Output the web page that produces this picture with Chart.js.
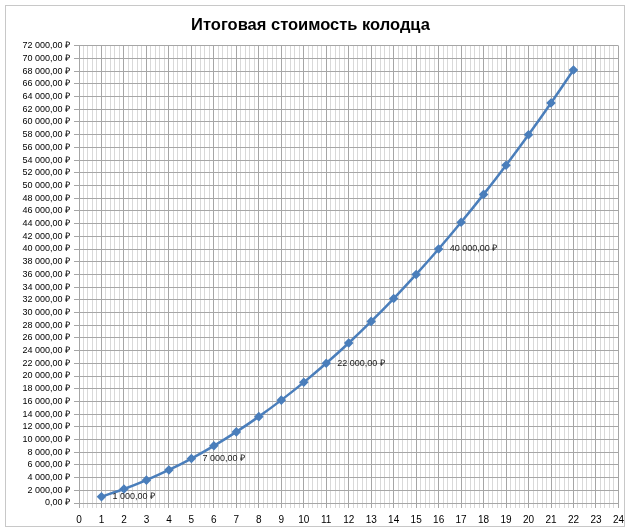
<!DOCTYPE html>
<html>
<head>
<meta charset="utf-8">
<script src="https://cdn.jsdelivr.net/npm/chart.js@4/dist/chart.umd.min.js"></script>
<style>
  body { margin: 0; background: #fff; }
  #wrap { width: 630px; height: 532px; }
</style>
</head>
<body>
<div id="wrap"><canvas id="well"></canvas></div>
<script>
// ring count and total cost
var rings = [1, 2, 3, 4, 5, 6, 7, 8, 9, 10, 11, 12, 13, 14, 15, 16, 17, 18, 19, 20, 21, 22];
var cost = [1000, 2200, 3600, 5200, 7000, 9000, 11200, 13600, 16200, 19000, 22000,
            25200, 28600, 32200, 36000, 40000, 44200, 48600, 53200, 58000, 63000, 68200];
// which points get a value label
var labelled = [1, 5, 11, 16];
var title = 'Итоговая стоимость колодца';

var narrow = '"Liberation Sans Narrow", "Liberation Sans", Arial, sans-serif';

function rub(v) {
  var s = v.toFixed(2).replace('.', ',');
  var parts = s.split(',');
  var int = parts[0].replace(/\B(?=(\d{3})+(?!\d))/g, ' ');
  return int + ',' + parts[1] + ' ₽';
}

var pts = rings.map(function (r, i) { return { x: r, y: cost[i] }; });

//white background + outer frame
var frame = {
  id: 'frame',
  beforeDraw: function (chart) {
    var c = chart.ctx;
    c.save();
    c.fillStyle = '#fff';
    c.fillRect(0, 0, chart.width, chart.height);
    c.strokeStyle = '#c8c8c8';
    c.lineWidth = 1;
    c.strokeRect(5.5, 5.5, chart.width - 11, chart.height - 11);
    c.restore();
  }
};

//value labels next to some points
var valueLabels = {
  id: 'valueLabels',
  afterDatasetsDraw: function (chart) {
    var c = chart.ctx;
    var meta = chart.getDatasetMeta(0);
    c.save();
    c.font = '9px ' + narrow;
    c.fillStyle = '#1a1a1a';
    c.textBaseline = 'middle';
    rings.forEach(function (r, i) {
      if (labelled.indexOf(r) < 0) return;
      var p = meta.data[i];
      c.fillText(rub(cost[i]), p.x + 11, p.y);
    });
    c.restore();
  }
};

function isWhole(v) { return Math.abs(v - Math.round(v)) < 1e-6; }

var ctx = document.getElementById('well').getContext('2d');
var chart = new Chart(ctx, {
  type: 'line',
  data: {
    datasets: [{
      data: pts,
      borderColor: '#4a7ebb',
      backgroundColor: '#4a7ebb',
      borderWidth: 2.5,
      pointStyle: 'rectRot',
      pointRadius: 3,
      pointHoverRadius: 3,
      cubicInterpolationMode: 'monotone',
      fill: false
    }]
  },
  options: {
    responsive: true,
    maintainAspectRatio: false,
    animation: false,
    layout: { padding: { left: 0, right: 9, top: 8, bottom: 9 } },
    plugins: {
      legend: { display: false },
      tooltip: { enabled: false },
      title: {
        display: true,
        text: title,
        color: '#000',
        font: { family: narrow, size: 16.5, weight: 'bold' },
        padding: { top: 8, bottom: 10 }
      }
    },
    scales: {
      x: {
        type: 'linear',
        min: 0,
        max: 24,
        afterFit: function (s) { s.height = 20; },
        grid: {
          color: function (c) { return isWhole(c.tick.value) ? '#a6a6a6' : '#d9d9d9'; },
          tickLength: 5
        },
        border: { color: '#a6a6a6' },
        ticks: {
          stepSize: 0.2,
          autoSkip: false,
          maxRotation: 0,
          padding: 6,
          color: '#000',
          font: { family: narrow, size: 10 },
          callback: function (v) { return isWhole(v) ? String(Math.round(v)) : ''; }
        }
      },
      y: {
        min: 0,
        max: 72000,
        afterFit: function (s) { s.width = 79; },
        grid: { color: '#a6a6a6', tickLength: 5 },
        border: { color: '#a6a6a6' },
        ticks: {
          stepSize: 2000,
          autoSkip: false,
          color: '#000',
          padding: 4,
          font: { family: narrow, size: 9 },
          callback: function (v) { return rub(v); }
        }
      }
    }
  },
  plugins: [frame, valueLabels]
});
</script>
</body>
</html>
